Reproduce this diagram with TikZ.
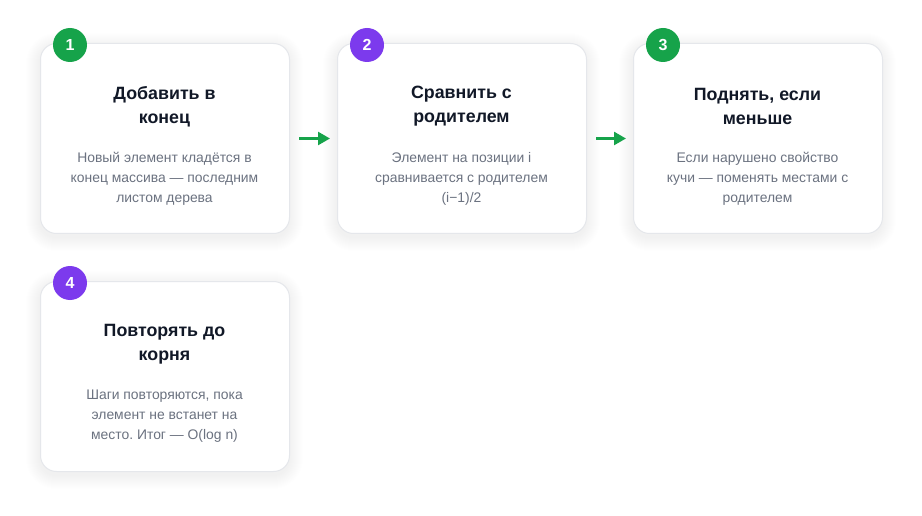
\documentclass[tikz,border=0pt]{standalone}
\usepackage{fontspec}
\setmainfont{Liberation Sans}
\usetikzlibrary{arrows.meta}
\frenchspacing
\definecolor{cgreen}{HTML}{16A34A}
\definecolor{cpurple}{HTML}{7C3AED}
\definecolor{ctitle}{HTML}{111827}
\definecolor{cdesc}{HTML}{6B7280}
\definecolor{cborder}{HTML}{E5E7EB}
\tikzset{
  card/.style={draw=cborder, line width=1pt, fill=white, rounded corners=16pt,
    minimum width=249pt, minimum height=190pt, inner sep=0pt, anchor=north west},
  badge/.style={circle, fill=#1, minimum size=34pt, inner sep=0pt, text=white,
    font=\fontsize{16}{18}\selectfont\bfseries},
  ctitle/.style={align=center, text=ctitle, font=\fontsize{17.8}{24}\selectfont\bfseries},
  cdesc/.style={align=center, text=cdesc, font=\fontsize{13.9}{20}\selectfont},
  flow/.style={draw=cgreen, line width=2.5pt, -{Triangle[length=12pt,width=13pt]}}
}
\newcommand\flowcard[7]{%
  % #1 x, #2 y, #3 name, #4 badge colour, #5 number, #6 title, #7 description
  \foreach \i in {1,...,14}{
    \fill[black, opacity=0.0035, rounded corners={16pt+\i pt}]
      ({#1-\i},{#2+4-\i}) rectangle ({#1+249+\i},{#2+190+4+\i});
  }
  \node[card] (#3) at (#1,#2) {};
  \node[badge=#4] (#3b) at ({#1+30},{#2+2}) {#5};
  \node[ctitle] (#3t) at ({#1+124.5},{#2+63.5}) {#6};
  \node[cdesc] (#3d) at ({#1+124.5},{#2+135.5}) {#7};
}
\begin{document}
\begin{tikzpicture}[x=1pt,y=-1pt]
\useasboundingbox (0,0) rectangle (922,516);
\fill[white] (0,0) rectangle (922,516);
\flowcard{40}{43}{c1}{cgreen}{1}{Добавить в\\конец}{Новый элемент кладётся в\\конец массива — последним\\листом дерева}
\flowcard{337}{43}{c2}{cpurple}{2}{Сравнить с\\родителем}{Элемент на позиции i\\сравнивается с родителем\\(i−1)/2}
\flowcard{633}{43}{c3}{cgreen}{3}{Поднять, если\\меньше}{Если нарушено свойство\\кучи — поменять местами с\\родителем}
\flowcard{40}{281}{c4}{cpurple}{4}{Повторять до\\корня}{Шаги повторяются, пока\\элемент не встанет на\\место. Итог — O(log n)}
\draw[flow, shorten <=9pt, shorten >=7pt] (c1.east) -- (c2.west);
\draw[flow, shorten <=9pt, shorten >=7pt] (c2.east) -- (c3.west);
\end{tikzpicture}
\end{document}
